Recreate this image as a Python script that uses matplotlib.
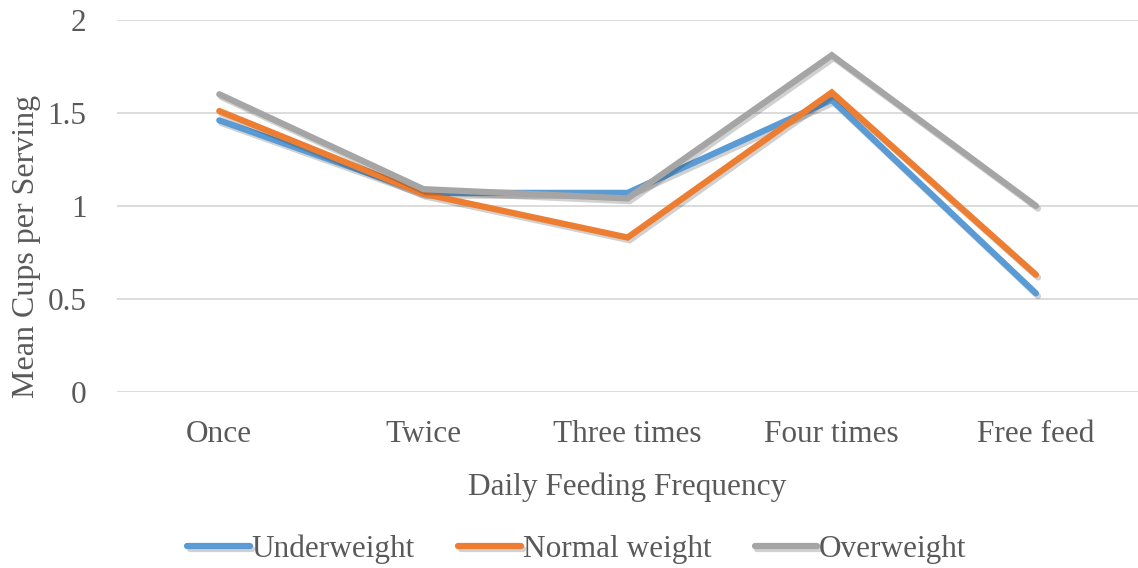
import matplotlib.pyplot as plt
import matplotlib.patheffects as pe

plt.rcParams['font.family'] = ['Liberation Serif', 'DejaVu Serif']

# Mean cups per serving by daily feeding frequency
categories = ['Once', 'Twice', 'Three times', 'Four times', 'Free feed']
underweight = [1.46, 1.07, 1.07, 1.57, 0.53]
normal_weight = [1.51, 1.065, 0.83, 1.61, 0.63]
overweight = [1.60, 1.09, 1.04, 1.81, 1.00]

series = [
    ('Underweight', underweight, '#5B9BD5'),
    ('Normal weight', normal_weight, '#ED7D31'),
    ('Overweight', overweight, '#A5A5A5'),
]

fig = plt.figure(figsize=(11.38, 5.68), dpi=100, facecolor='w')
ax = fig.add_axes([0.103, 0.31, 0.897, 0.655])

shadow = [pe.SimpleLineShadow(offset=(1.5, -2), shadow_color='k', alpha=0.18), pe.Normal()]
x = list(range(len(categories)))
for name, vals, col in series:
    ax.plot(x, vals, color=col, lw=4.5, label=name, solid_capstyle='round',
            solid_joinstyle='miter', path_effects=shadow)

ax.set_xlim(-0.5, len(categories) - 0.5)
ax.set_ylim(0, 2)
ax.set_yticks([0, 0.5, 1, 1.5, 2])
ax.set_yticklabels(['0', '0.5', '1', '1.5', '2'])
ax.set_xticks(x)
ax.set_xticklabels(categories)
ax.grid(axis='y', color='#D9D9D9', lw=1.3)
ax.set_axisbelow(True)
for s in ax.spines.values():
    s.set_visible(False)
ax.tick_params(length=0, labelsize=22.5, colors='#595959')
ax.tick_params(axis='x', pad=20)
ax.tick_params(axis='y', pad=22)

ax.set_xlabel('Daily Feeding Frequency', fontsize=22.5, color='#595959', labelpad=17)
ax.set_ylabel('Mean Cups per Serving', fontsize=23, color='#595959')
ax.yaxis.set_label_coords(-0.075, 0.39)

fig.legend(loc='center', bbox_to_anchor=(0.507, 0.033), ncol=3, frameon=False,
           fontsize=22.5, labelcolor='#595959', handlelength=2.0, handletextpad=0.05,
           columnspacing=1.4)

fig.savefig('out.png', dpi=100)
